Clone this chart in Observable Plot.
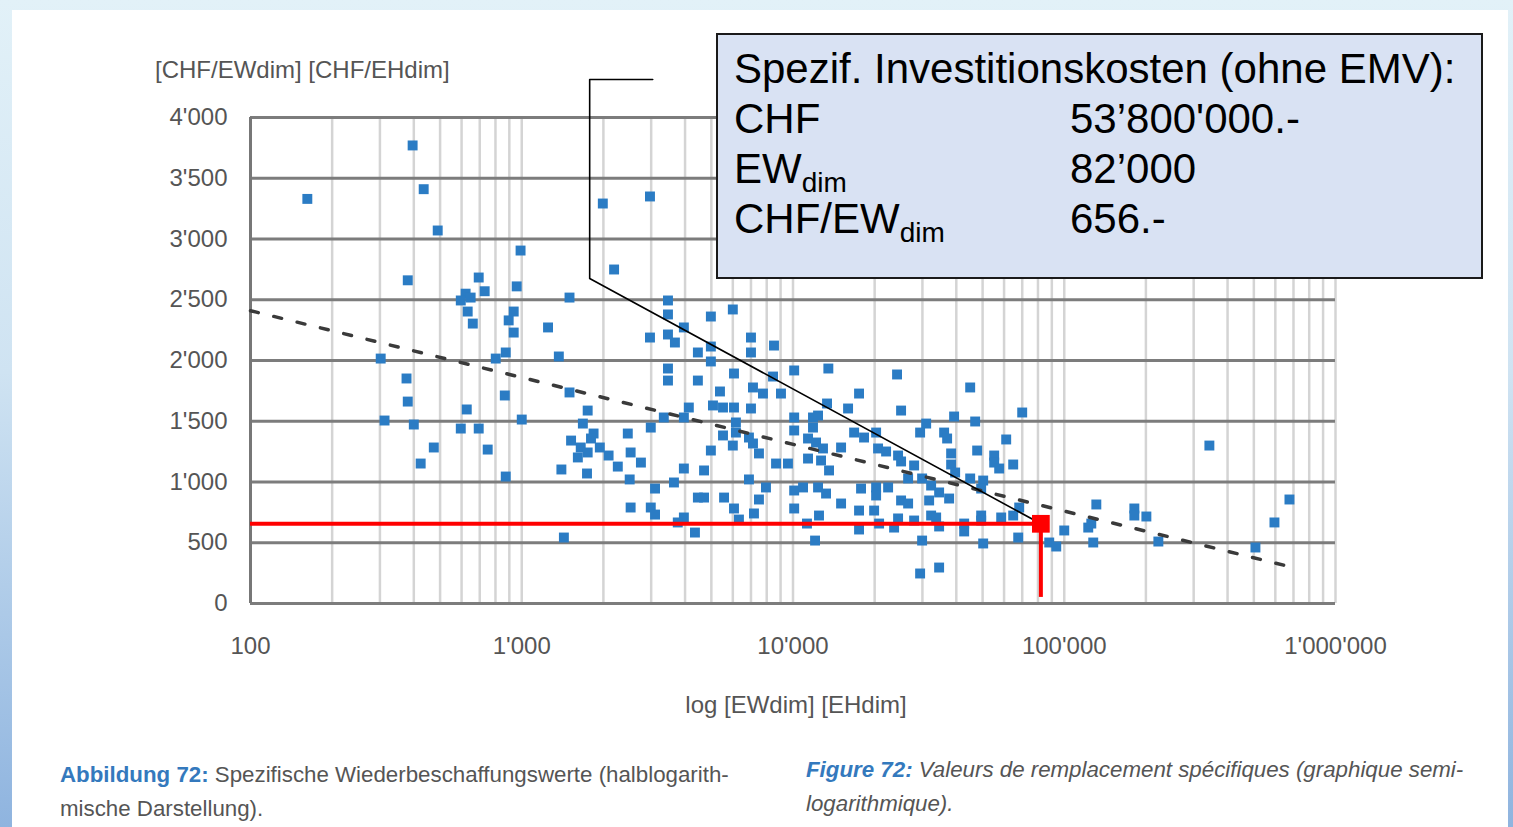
<!DOCTYPE html>
<html>
<head>
<meta charset="utf-8">
<script src="https://cdn.jsdelivr.net/npm/d3@7"></script>
<script src="https://cdn.jsdelivr.net/npm/@observablehq/plot@0.6"></script>
<style>
html, body { margin: 0; padding: 0; }
body {
  width: 1513px; height: 827px; overflow: hidden; position: relative;
  background: linear-gradient(180deg, #e2f1f8 0%, #cfe3f2 45%, #8fb4df 100%);
  font-family: "Liberation Sans", Arial, Helvetica, sans-serif;
}
#card { position: absolute; left: 12px; top: 10px; width: 1496px; height: 817px; background: #fff; }
#chart { position: absolute; left: 12px; top: 10px; }
.axlabel { position: absolute; font-size: 24px; color: #555; white-space: nowrap; }
#ylabel { left: 155px; top: 56px; }
#xlabel { left: 796px; top: 691px; transform: translateX(-50%); }
#box {
  position: absolute; left: 716px; top: 33px; width: 767px; height: 246px;
  box-sizing: border-box; border: 2px solid #1a1a1a; background: #d9e2f3;
  padding: 9px 0 0 16px; font-size: 42px; color: #000; line-height: 50px;
}
#box .row { height: 50px; white-space: nowrap; }
#box .k { display: inline-block; width: 336px; }
#box sub { font-size: 28px; vertical-align: -0.32em; line-height: 0; }
.cap { position: absolute; font-size: 22.3px; line-height: 34px; color: #555; white-space: nowrap; }
.cap b { color: #3479bd; }
#capDe { left: 60px; top: 758px; }
#capFr { left: 806px; top: 753px; font-style: italic; }
</style>
</head>
<body>
<div id="card"></div>
<div id="chart"></div>
<div class="axlabel" id="ylabel">[CHF/EWdim] [CHF/EHdim]</div>
<div class="axlabel" id="xlabel">log [EWdim] [EHdim]</div>
<div id="box"></div>
<div class="cap" id="capDe"><b>Abbildung 72:</b> Spezifische Wiederbeschaffungswerte (halblogarith-<br>mische Darstellung).</div>
<div class="cap" id="capFr"><b>Figure 72:</b> Valeurs de remplacement spécifiques (graphique semi-<br>logarithmique).</div>
<script>
// ---- data ----
const xTicks = [100, 1000, 10000, 100000, 1000000];
const xTickLabels = ["100", "1'000", "10'000", "100'000", "1'000'000"];
const yTicks = [0, 500, 1000, 1500, 2000, 2500, 3000, 3500, 4000];
const yTickLabels = ["0", "500", "1'000", "1'500", "2'000", "2'500", "3'000", "3'500", "4'000"];

// [EWdim, CHF/EWdim]
const sites = [
[162,3330],[396,3770],[435,3410],[490,3070],[990,2905],[380,2660],[694,2683],[730,2570],[958,2610],[621,2550],[596,2494],[648,2518],[632,2403],[660,2304],[934,2403],[895,2330],[934,2230],[873,2066],[802,2016],[302,2016],[376,1852],[380,1662],[312,1506],[400,1473],[474,1284],[424,1152],[627,1597],[596,1440],[694,1440],[749,1267],[866,1712],[1000,1514],[873,1045],
[1990,3292],[2970,3350],[2190,2749],[1500,2518],[1250,2272],[1370,2033],[3460,2494],[3460,2379],[3960,2272],[2970,2189],[3460,2214],[3670,2148],[4980,2362],[6000,2420],[4460,2066],[4980,2115],[4980,1992],[7000,2189],[7000,2066],[8510,2123],[3460,1934],[3460,1835],[4460,1835],[6060,1893],[5380,1745],[8440,1868],[10100,1918],[13500,1934],[7120,1778],[7750,1728],[9030,1728],
[1500,1737],[1750,1588],[1680,1481],[1840,1399],[1520,1341],[1800,1358],[1650,1284],[1750,1243],[1610,1202],[1940,1284],[2090,1218],[2260,1127],[2460,1399],[2520,1243],[2750,1160],[1400,1103],[1740,1070],[2500,1021],[2990,1448],[3340,1531],[4130,1613],[3960,1531],[5070,1630],[5520,1613],[6060,1613],[7000,1605],[6160,1490],[6160,1407],[5520,1383],[6000,1300],[6880,1366],[7120,1317],[7490,1235],[4980,1259],[8660,1152],[9580,1152],[10100,1531],[10100,1424],[11850,1531],[11850,1448],[11360,1358],[12160,1325],[12900,1276],[11360,1193],[12690,1177],[13580,1095],[3960,1111],[4700,1095],[3640,996],[3100,946],[6880,1021],[7950,955],[10100,930],[10890,955],[12370,955],[13240,905],[4460,872],[4700,872],[5570,872],[7490,856],[2520,790],[2990,790],[3100,732],[6060,782],[6320,691],[7180,741],[10100,782],[12470,724],[11260,658],[3960,708],[3760,667],[4350,584],[1430,543],[12060,518],
[17520,1728],[13350,1646],[15960,1605],[12370,1547],[16800,1407],[15040,1284],
[45000,1778],[25030,1588],[39260,1539],[46950,1498],[69980,1572],[30970,1481],[29420,1407],[18280,1366],[20250,1407],[36070,1407],[37000,1358],[61090,1350],[20590,1276],[22040,1251],[24400,1218],[38280,1235],[47750,1259],[55170,1218],[25030,1169],[27960,1136],[38280,1144],[55170,1160],[57560,1111],[64830,1144],[39610,1078],[26570,1029],[29920,1029],[45000,1029],[50250,1012],[49400,946],[32300,971],[34570,914],[37630,864],[31760,848],[17820,946],[20250,955],[22420,955],[20250,889],[15040,823],[25030,848],[26570,823],[17520,765],[19910,765],[24400,700],[27960,683],[32300,724],[33710,708],[20770,658],[23590,625],[34570,634],[42760,658],[49400,724],[49400,683],[58550,708],[64830,724],[68230,790],[17520,609],[42760,593],[29920,518],[50250,494],[67650,543],[88030,502],[93430,469],[100000,601],[127900,502],[122600,625],[125800,658],[131300,815],[29420,247],[34570,296],[24190,1885],[342800,1300],[181300,782],[181300,724],[200800,716],[222300,510],[506800,461],[595600,667],[676500,856]
];

// trend line end points
const trendX = [100, 660000];
const trendY = [2410, 310];

// highlighted project
const markerX = 82000;      // EW dim
const markerY = 656;        // CHF / EW dim
const markerBaseY = 50;
const investLabel = "Spezif. Investitionskosten (ohne EMV):";
const boxKeys = ["CHF", "EW<sub>dim</sub>", "CHF/EW<sub>dim</sub>"];
const boxValues = ["53’800'000.-", "82’000", "656.-"];

// callout leader (data coordinates)
const leaderX = [3040, 1780, 1780, markerX];
const leaderY = [4313, 4313, 2675, markerY];

// ---- build ----
const pts = sites.map(([x, y]) => ({x, y}));
const trend = trendX.map((x, i) => ({x, y: trendY[i]}));
const leader = leaderX.map((x, i) => ({x, y: leaderY[i]}));
const xLab = new Map(xTicks.map((t, i) => [t, xTickLabels[i]]));
const yLab = new Map(yTicks.map((t, i) => [t, yTickLabels[i]]));

const plot = Plot.plot({
  width: 1496, height: 680,
  marginLeft: 238, marginRight: 173, marginTop: 107, marginBottom: 87,
  style: {background: "transparent", fontFamily: "Liberation Sans, Arial, sans-serif", fontSize: "24px", color: "#555", overflow: "visible"},
  x: {type: "log", domain: [100, 1000000]},
  y: {domain: [0, 4000]},
  marks: [
    Plot.gridX({ticks: 40, stroke: "#d4d4d4", strokeOpacity: 1, strokeWidth: 2.5}),
    Plot.ruleY(yTicks, {stroke: "#7c7c7c", strokeWidth: 3}),
    Plot.ruleX([100], {stroke: "#777", strokeWidth: 3}),
    Plot.axisY({ticks: yTicks, tickFormat: d => yLab.get(d), tickSize: 0, tickPadding: 23, label: null, fontSize: 24}),
    Plot.axisX({ticks: xTicks, tickFormat: d => xLab.get(d), tickSize: 0, tickPadding: 33, label: null, fontSize: 24}),
    Plot.dot(pts, {x: "x", y: "y", symbol: "square", fill: "#2b7cc4", r: 5.6}),
    Plot.line(trend, {x: "x", y: "y", stroke: "#3a3a3a", strokeWidth: 3.5, strokeDasharray: "8,16"}),
    Plot.line(leader, {x: "x", y: "y", stroke: "#000", strokeWidth: 1.6}),
    Plot.ruleY([markerY], {x1: 100, x2: markerX, stroke: "#ff0000", strokeWidth: 4}),
    Plot.ruleX([markerX], {y1: markerBaseY, y2: markerY, stroke: "#ff0000", strokeWidth: 4}),
    Plot.dot([{x: markerX, y: markerY}], {x: "x", y: "y", symbol: "square", fill: "#ff0000", r: 10})
  ]
});
document.getElementById("chart").appendChild(plot);

const box = document.getElementById("box");
let html = `<div class="row">${investLabel}</div>`;
boxKeys.forEach((k, i) => { html += `<div class="row"><span class="k">${k}</span><span class="v">${boxValues[i]}</span></div>`; });
box.innerHTML = html;
</script>
</body>
</html>
